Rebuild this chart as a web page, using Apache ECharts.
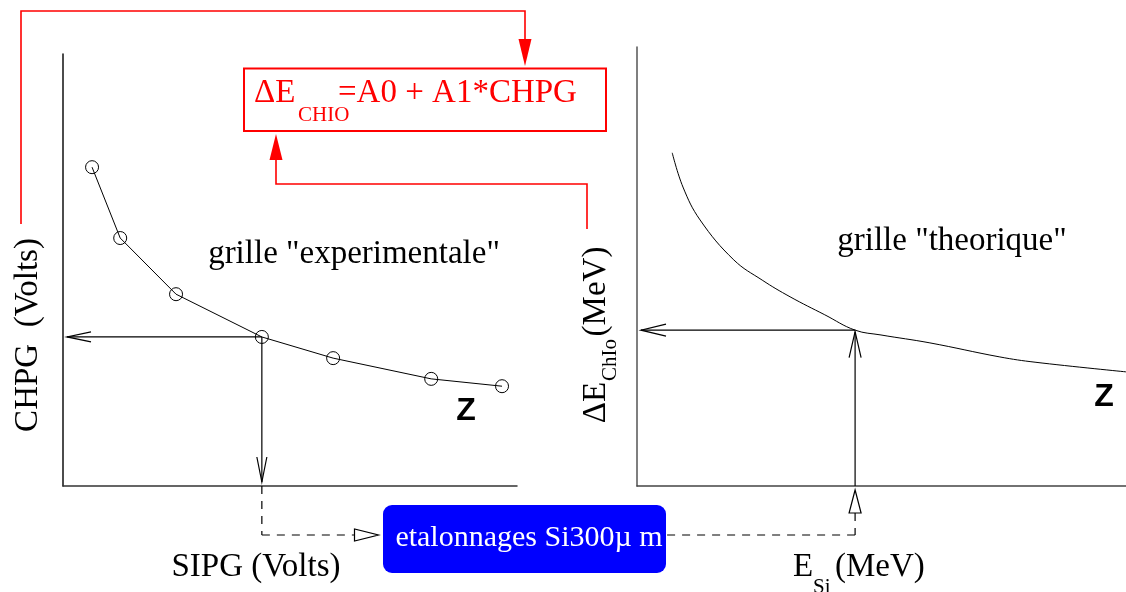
<!DOCTYPE html>
<html>
<head>
<meta charset="utf-8">
<script src="https://cdn.jsdelivr.net/npm/echarts@6/dist/echarts.min.js"></script>
<style>
  html, body { margin: 0; padding: 0; background: #fff; }
  #main { width: 1126px; height: 592px; }
</style>
</head>
<body>
<div id="main"></div>
<script>
// grille "experimentale" : SIPG -> CHPG (unites arbitraires, 0..100)
const expSIPG = [6.4, 12.6, 24.9, 43.8, 59.5, 81.1, 96.7];
const expCHPG = [73.8, 57.4, 44.4, 34.5, 29.6, 24.8, 23.1];
// grille "theorique" : E_Si -> dE_ChIo
const theoESi = [7.2, 9.4, 12.9, 19.8, 25.6, 31.3, 38.4, 44.6, 49.9, 59.9, 74.2, 81.4, 100];
const theoDE = [75.9, 68.1, 60.6, 51.5, 46.9, 43.1, 39.0, 35.5, 34.4, 32.6, 29.4, 28.2, 26.0];
// point de lecture sur chaque grille
const expCross = [43.8, 34.5];
const theoCross = [44.6, 35.5];

const SERIF = '"Liberation Serif", "Times New Roman", serif';
const SANS = '"Liberation Sans", Arial, sans-serif';
const RED = '#ff0000';
const BOX = { x: 383, y: 505, w: 283, h: 68 };   // cadre bleu "etalonnages"

const zip = (a, b) => a.map((v, i) => [v, b[i]]);

function seg(a, b, dash) {
  return {
    type: 'line',
    shape: { x1: a[0], y1: a[1], x2: b[0], y2: b[1] },
    style: { stroke: '#000', lineWidth: 1.2, lineDash: dash || null }
  };
}

// fleche ouverte en V, dir = sens de la fleche
function vHead(tip, dir, len, half) {
  const px = -dir[1], py = dir[0];
  const bx = tip[0] - dir[0] * len, by = tip[1] - dir[1] * len;
  return {
    type: 'polyline',
    shape: { points: [[bx + px * half, by + py * half], tip, [bx - px * half, by - py * half]] },
    style: { stroke: '#000', fill: null, lineWidth: 1.2 }
  };
}

function hollowTri(points) {
  return {
    type: 'polygon',
    shape: { points: points },
    style: { stroke: '#000', fill: '#fff', lineWidth: 1.2 }
  };
}

function renderExpCross(params, api) {
  const p = api.coord([api.value(0), api.value(1)]);
  const foot = api.coord([api.value(0), 0]);
  const side = api.coord([0, api.value(1)]);
  const tipL = [side[0] + 4, p[1]];
  const tipD = [p[0], foot[1] - 4];
  const dy = foot[1] + 49;
  return {
    type: 'group',
    children: [
      seg(p, tipL), vHead(tipL, [-1, 0], 24, 5),
      seg(p, tipD), vHead(tipD, [0, 1], 25, 5),
      seg([p[0], foot[1]], [p[0], dy], [8, 7]),
      seg([p[0], dy], [BOX.x - 28.5, dy], [8, 7]),
      hollowTri([[BOX.x - 28.5, dy - 6], [BOX.x - 28.5, dy + 6], [BOX.x - 4.5, dy]])
    ]
  };
}

function renderTheoCross(params, api) {
  const p = api.coord([api.value(0), api.value(1)]);
  const foot = api.coord([api.value(0), 0]);
  const side = api.coord([0, api.value(1)]);
  const tipL = [side[0] + 4, p[1]];
  const tipU = [p[0], p[1] + 1.5];
  const dy = foot[1] + 49;
  return {
    type: 'group',
    children: [
      seg(p, tipL), vHead(tipL, [-1, 0], 25, 6),
      seg(foot, tipU), vHead(tipU, [0, -1], 26, 6),
      hollowTri([[p[0] - 6, foot[1] + 27], [p[0] + 6, foot[1] + 27], [p[0], foot[1] + 4]]),
      seg([p[0], foot[1] + 27], [p[0], dy], [8, 7]),
      seg([p[0], dy], [BOX.x + BOX.w, dy], [8, 7])
    ]
  };
}

function txt(x, y, text, size, opts) {
  opts = opts || {};
  return {
    type: 'text', x: x, y: y, rotation: opts.rot || 0,
    style: {
      text: text,
      font: (opts.weight || '') + ' ' + size + 'px ' + (opts.family || SERIF),
      fill: opts.color || '#000',
      align: opts.align || 'center',
      verticalAlign: 'middle'
    }
  };
}

const plainAxis = (color) => ({
  type: 'value', min: 0, max: 100,
  axisLine: { show: true, lineStyle: { color: color, width: 1.5 } },
  axisTick: { show: false },
  axisLabel: { show: false },
  splitLine: { show: false }
});

const chart = echarts.init(document.getElementById('main'), null, { renderer: 'canvas' });

chart.setOption({
  animation: false,
  backgroundColor: '#fff',
  grid: [
    { left: 63, top: 54, width: 454, height: 432 },
    { left: 637, top: 47, width: 489, height: 439 }
  ],
  xAxis: [
    Object.assign(plainAxis('#333'), { gridIndex: 0 }),
    Object.assign(plainAxis('#444'), { gridIndex: 1 })
  ],
  yAxis: [
    Object.assign(plainAxis('#111'), { gridIndex: 0 }),
    Object.assign(plainAxis('#555'), { gridIndex: 1 })
  ],
  series: [
    {
      type: 'line', xAxisIndex: 0, yAxisIndex: 0,
      data: zip(expSIPG, expCHPG),
      symbol: 'circle', symbolSize: 13,
      itemStyle: { color: 'rgba(0,0,0,0)', borderColor: '#000', borderWidth: 1 },
      lineStyle: { color: '#000', width: 1 },
      silent: true
    },
    {
      type: 'line', xAxisIndex: 1, yAxisIndex: 1,
      data: zip(theoESi, theoDE),
      smooth: 0.4, showSymbol: false,
      lineStyle: { color: '#000', width: 1 },
      silent: true
    },
    {
      type: 'custom', xAxisIndex: 0, yAxisIndex: 0,
      data: [expCross], renderItem: renderExpCross, silent: true
    },
    {
      type: 'custom', xAxisIndex: 1, yAxisIndex: 1,
      data: [theoCross], renderItem: renderTheoCross, silent: true
    }
  ],
  graphic: [
    // liaisons rouges vers la formule
    {
      type: 'polyline',
      shape: { points: [[21, 224], [21, 11], [525, 11], [525, 42]] },
      style: { stroke: RED, fill: null, lineWidth: 1.6 }
    },
    { type: 'polygon', shape: { points: [[518.5, 39], [531.5, 39], [525, 66]] }, style: { fill: RED } },
    {
      type: 'polyline',
      shape: { points: [[587, 229], [587, 184], [276, 184], [276, 158]] },
      style: { stroke: RED, fill: null, lineWidth: 1.6 }
    },
    { type: 'polygon', shape: { points: [[269.5, 160], [282.5, 160], [276, 134]] }, style: { fill: RED } },
    {
      type: 'rect', shape: { x: 244, y: 68.5, width: 362, height: 62.5 },
      style: { stroke: RED, fill: null, lineWidth: 2 }
    },
    txt(254, 93, 'ΔE', 33, { color: RED, align: 'left' }),
    txt(298, 115, 'CHIO', 21, { color: RED, align: 'left' }),
    txt(338, 93, '=A0 + A1*CHPG', 33, { color: RED, align: 'left' }),

    // cadre bleu
    {
      type: 'rect', shape: { x: BOX.x, y: BOX.y, width: BOX.w, height: BOX.h, r: 9 },
      style: { fill: '#0000ff' }
    },
    txt(BOX.x + 146, 538, 'etalonnages Si300µ m', 30, { color: '#fff' }),

    // titres des grilles
    txt(354, 254.5, 'grille "experimentale"', 33),
    txt(952, 241.5, 'grille "theorique"', 33),
    txt(466, 411, 'Z', 32, { weight: 'bold', family: SANS }),
    txt(1104, 397.5, 'Z', 32, { weight: 'bold', family: SANS }),

    // noms des axes
    txt(28, 335, 'CHPG  (Volts)', 33, { rot: Math.PI / 2 }),
    txt(256, 567.5, 'SIPG (Volts)', 33),
    txt(596.5, 402.5, 'ΔE', 33, { rot: Math.PI / 2 }),
    txt(610, 360, 'ChIo', 21, { rot: Math.PI / 2 }),
    txt(596.5, 291.5, '(MeV)', 33, { rot: Math.PI / 2 }),
    txt(793, 567.5, 'E', 33, { align: 'left' }),
    txt(813, 587, 'Si', 21, { align: 'left' }),
    txt(835, 567.5, '(MeV)', 33, { align: 'left' })
  ]
});
</script>
</body>
</html>
